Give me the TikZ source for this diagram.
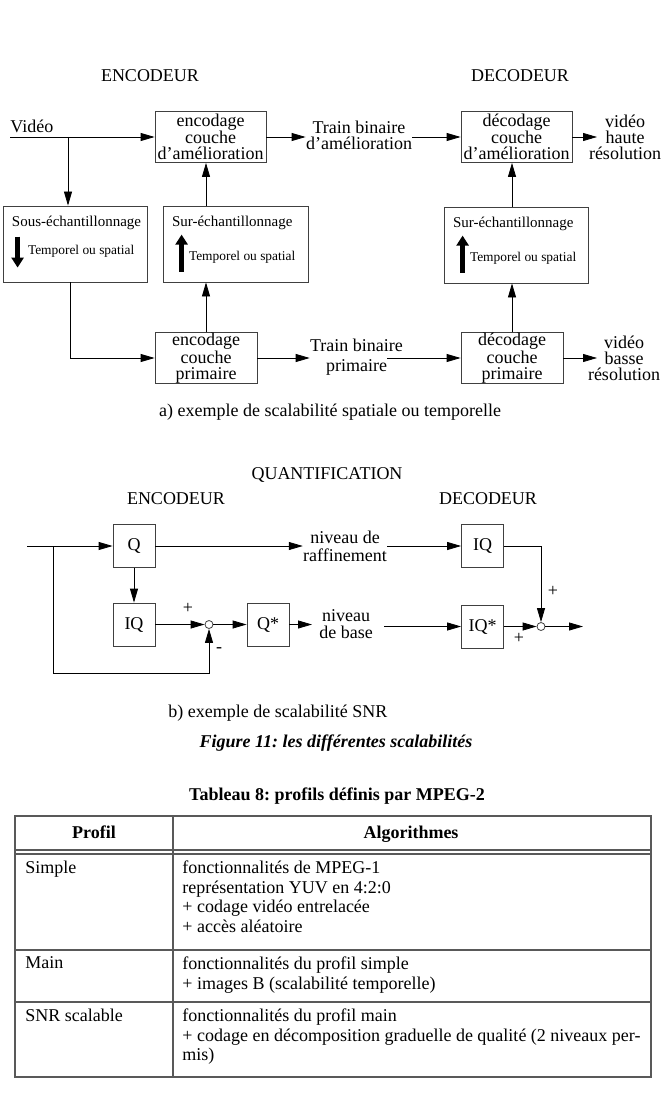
\documentclass[tikz,border=0pt]{standalone}
\usepackage{fontspec}
\setmainfont{Liberation Serif}
\usetikzlibrary{arrows.meta}
\frenchspacing

\begin{document}
\begin{tikzpicture}[x=1pt, y=-1pt, line width=0.8pt, >={Triangle[length=14pt,width=8pt]},
    every node/.style={inner sep=0pt, font=\fontsize{18}{19.7}\selectfont},
    bloc/.style={draw=black!75, rectangle, align=center},
    enh/.style={bloc, minimum width=111pt, minimum height=51pt, font=\fontsize{18}{16.5}\selectfont},
    prim/.style={bloc, minimum width=102pt, minimum height=51pt, font=\fontsize{18}{16}\selectfont},
    ech/.style={bloc, minimum width=144pt, minimum height=76pt},
    qbox/.style={bloc, minimum width=42pt, minimum height=43pt},
    somme/.style={circle, draw=black!75, fill=white, minimum size=8pt},
    lignes/.style={align=center, font=\fontsize{18}{#1}\selectfont},
    petit/.style={anchor=west, font=\fontsize{15}{15}\selectfont},
    mode/.style={anchor=west, font=\fontsize{13.4}{14}\selectfont},
    fleche/.style={line width=4.5pt, -{Triangle[length=10pt,width=12pt]}},
    cadre/.style={draw=black!65, line width=1.2pt},
    gras/.style={font=\fontsize{18}{19.7}\selectfont\bfseries}]

    \useasboundingbox (0,0) rectangle (661,1118);

    % a) spatial / temporal scalability
    \node (titEncA) at (150,76) {ENCODEUR};
    \node (titDecA) at (520,76) {DECODEUR};
    \node[anchor=base west] (video) at (10,133) {Vidéo};

    \node[enh] (enhEnc) at (210.5,137) {encodage\\couche\\d’amélioration};
    \node[enh] (enhDec) at (516.5,137) {décodage\\couche\\d’amélioration};
    \node[ech] (sousEch) at (75,244) {};
    \node[ech, minimum width=145pt] (surEnc) at (235.5,244) {};
    \node[ech] (surDec) at (516,245) {};
    \node[prim] (primEnc) at (206,358) {encodage\\couche\\primaire};
    \node[prim] (primDec) at (512,358) {décodage\\couche\\primaire};

    \node[lignes=16] (trainA) at (359,135.5) {Train binaire\\d’amélioration};
    \node[lignes=20] (trainB) at (356.5,357) {Train binaire\\primaire};
    \node[lignes=16] (vidHaute) at (625,137) {vidéo\\haute\\résolution};
    \node[lignes=16] (vidBasse) at (624,358.5) {vidéo\\basse\\résolution};

    % sampling boxes
    \node[petit] (sousTitre) at ([shift={(9pt,-17pt)}]sousEch.north west) {Sous-échantillonnage};
    \node[mode] (sousMode) at ([shift={(25pt,-46pt)}]sousEch.north west) {Temporel ou spatial};
    \draw[fleche] ([shift={(15pt,-31pt)}]sousEch.north west) -- ++(0,-31pt);
    \foreach \b in {surEnc,surDec} {
        \node[petit] (\b-titre) at ([shift={(9pt,-17pt)}]\b.north west) {Sur-échantillonnage};
        \node[mode] (\b-mode) at ([shift={(26pt,-52pt)}]\b.north west) {Temporel ou spatial};
        \draw[fleche] ([shift={(19pt,-66pt)}]\b.north west) -- ++(0,37pt);
    }

    % connections
    \coordinate (vSplit) at (68,137);
    \coordinate (trainBout) at (387,358);
    \coordinate (hauteIn) at (597,137);
    \coordinate (basseIn) at (597,358);
    \draw[->] (enhEnc.west -| video.west) -- (enhEnc.west);
    \draw[->] (vSplit) -- (vSplit |- sousEch.north);
    \draw[->] ([xshift=-5pt]sousEch.south) |- (primEnc.west);
    \draw[->] (primEnc.north) -- (primEnc.north |- surEnc.south);
    \draw[->] (primEnc.north |- surEnc.north) -- (primEnc.north |- enhEnc.south);
    \draw[->] (enhEnc.east) -- (enhEnc.east -| trainA.west);
    \draw[->] (trainA.east |- enhDec.west) -- (enhDec.west);
    \draw[->] (primEnc.east) -- (primEnc.east -| trainB.west);
    \draw[->] (trainBout) -- (primDec.west);
    \draw[->] (enhDec.east) -- (hauteIn);
    \draw[->] (primDec.east) -- (basseIn);
    \draw[->] (primDec.north) -- (primDec.north |- surDec.south);
    \draw[->] (primDec.north |- surDec.north) -- (primDec.north |- enhDec.south);

    \node (legA) at (330,412) {a) exemple de scalabilité spatiale ou temporelle};

    % b) SNR scalability
    \node (titQ) at (327,475) {QUANTIFICATION};
    \node (titEncB) at (176,499) {ENCODEUR};
    \node (titDecB) at (488,499) {DECODEUR};

    \node[qbox] (q) at (134,546) {Q};
    \node[qbox] (iqEnc) at (134,624.5) {IQ};
    \node[qbox] (qEt) at (268,624.5) {Q*};
    \node[somme] (sEnc) at (209,624.5) {};
    \node[qbox] (iqDec) at (482.5,546) {IQ};
    \node[qbox] (iqEtDec) at (482.5,626.5) {IQ*};
    \node[somme] (sDec) at (541,626.5) {};
    \node[lignes=18] (raff) at (345,546) {niveau de\\raffinement};
    \node[lignes=17] (base) at (346,624.5) {niveau\\de base};

    \node (plusA) at (188,608) {+};
    \node (moinsA) at (219,650) {-};
    \node (plusB) at (553,591) {+};
    \node (plusC) at (519,638) {+};

    \coordinate (qIn) at (27,546);
    \coordinate (qSplit) at (53,546);
    \coordinate (retour) at (209,673);
    \coordinate (baseIn) at (312,624.5);
    \coordinate (baseOut) at (384,626.5);
    \coordinate (sortie) at (583,626.5);
    \draw[->] (qIn) -- (q.west);
    \draw[->] (qSplit) |- (retour) -- (sEnc.south);
    \draw[->] (q.south) -- (iqEnc.north);
    \draw[->] (q.east) -- (q.east -| raff.west);
    \draw[->] (raff.east |- iqDec.west) -- (iqDec.west);
    \draw[->] (iqEnc.east) -- (sEnc.west);
    \draw[->] (sEnc.east) -- (qEt.west);
    \draw[->] (qEt.east) -- (baseIn);
    \draw[->] (baseOut) -- (iqEtDec.west);
    \draw[->] (iqDec.east) -| (sDec.north);
    \draw[->] (iqEtDec.east) -- (sDec.west);
    \draw[->] (sDec.east) -- (sortie);

    \node[anchor=west] (legB) at (168,713) {b) exemple de scalabilité SNR};
    \node[font=\fontsize{18}{18}\selectfont\bfseries\itshape] (figure) at (336,743) {Figure 11: les différentes scalabilités};

    % table of profiles
    \node[gras] (tabTitre) at (337,796) {Tableau 8: profils définis par MPEG-2};
    \draw[cadre] (15,816) rectangle (651,1077);
    \draw[cadre] (173,816) -- (173,1077);
    \draw[cadre] (15,850) -- (651,850);
    \draw[cadre] (15,854) -- (651,854);
    \draw[cadre] (15,950) -- (651,950);
    \draw[cadre] (15,1002) -- (651,1002);
    \node[gras, anchor=base] (hProfil) at (94,838) {Profil};
    \node[gras, anchor=base] (hAlgo) at (411,838) {Algorithmes};

    \foreach \nom/\y/\prof/\algo in {
        simple/860.5/Simple/{fonctionnalités de MPEG-1\\représentation YUV en 4:2:0\\+ codage vidéo entrelacée\\+ accès aléatoire},
        main/956.5/Main/{fonctionnalités du profil simple\\+ images B (scalabilité temporelle)},
        snr/1008.5/SNR scalable/{fonctionnalités du profil main\\+ codage en décomposition graduelle de qualité (2 niveaux per-\\mis)}}
    {
        \node[anchor=north west] (prof\nom) at (25,\y) {\prof};
        \node[anchor=north west, align=left] (algo\nom) at (182,\y) {\algo};
    }

\end{tikzpicture}
\end{document}
